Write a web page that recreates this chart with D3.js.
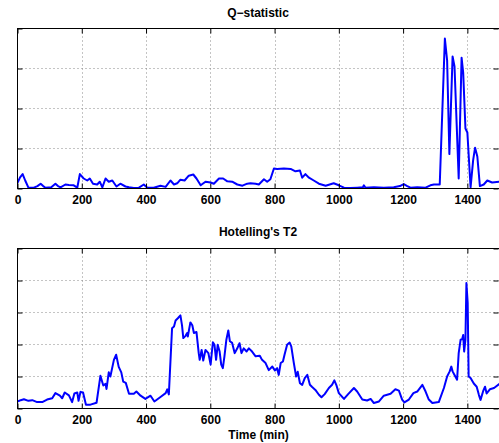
<!DOCTYPE html>
<html><head><meta charset="utf-8">
<script src="https://cdn.jsdelivr.net/npm/d3@7"></script>
<style>
html,body{margin:0;padding:0;background:#fff;}
svg{display:block;}
text{font-family:"Liberation Sans",Arial,Helvetica,sans-serif;font-weight:bold;}
</style></head>
<body>
<svg id="chart" width="499" height="443"></svg>
<script>
// ---- data ----
const xTicks = [0, 200, 400, 600, 800, 1000, 1200, 1400];
const qTicks = [0, 1, 2, 3, 4];
const tTicks = [0, 1, 2, 3, 4, 5];
const titles = ["Q\u2212statistic", "Hotelling's T2"];
const xLabel = "Time (min)";

const qTime = [0,8,16,24,34,51,62,72,80,87,105,118,126,134,149,160,175,186,194,206,217,225,235,248,256,264,274,284,295,308,320,336,347,362,378,393,404,424,445,461,476,487,497,507,520,533,547,557,570,585,601,611,627,640,653,668,684,700,715,725,741,751,767,777,787,798,808,829,850,865,879,886,896,907,922,938,959,984,1000,1016,1036,1057,1075,1078,1083,1109,1140,1171,1190,1202,1213,1223,1244,1270,1285,1296,1314,1330,1337,1344,1354,1360,1373,1382,1387,1394,1400,1410,1418,1424,1431,1439,1451,1462,1477,1500];
const qValue = [0.14,0.28,0.36,0.2,0.02,0.02,0.06,0.12,0.06,0.02,0.03,0.12,0.06,0.03,0.1,0.09,0.08,0.02,0.36,0.25,0.2,0.25,0.12,0.1,0.17,0.03,0.25,0.17,0.2,0.05,0.12,0.05,0.03,0.01,0.02,0.1,0.02,0.02,0.07,0.04,0.2,0.1,0.13,0.22,0.2,0.32,0.35,0.25,0.08,0.17,0.15,0.12,0.25,0.25,0.18,0.17,0.1,0.07,0.12,0.13,0.12,0.1,0.23,0.17,0.23,0.5,0.49,0.5,0.49,0.43,0.45,0.27,0.36,0.27,0.2,0.12,0.07,0.13,0.08,0.02,0.01,0.02,0.03,0.08,0.02,0.03,0.02,0.03,0.06,0.11,0.06,0.02,0.03,0.02,0.08,0.1,0.1,3.75,3.2,0.86,3.3,3.05,0.25,3.27,2.9,1.5,1.4,0.03,0.71,1.02,0.8,0.06,0.1,0.2,0.15,0.17];

const tTime = [0,10,20,34,46,61,77,92,108,118,132,139,147,160,170,177,186,190,196,204,213,227,246,258,267,274,277,284,289,300,307,315,323,329,337,347,362,370,383,398,414,426,445,461,466,471,481,487,492,499,507,512,516,523,528,530,538,544,549,557,564,567,573,578,585,594,601,608,613,618,623,629,634,639,644,650,656,661,668,676,684,691,697,704,713,720,730,741,754,761,772,782,793,801,808,813,819,826,831,839,847,852,860,867,872,879,886,894,902,910,917,927,938,946,956,969,979,986,992,1000,1016,1029,1047,1057,1073,1088,1099,1109,1125,1140,1161,1176,1187,1197,1204,1218,1232,1244,1260,1270,1280,1291,1311,1327,1337,1345,1350,1354,1360,1368,1373,1379,1384,1387,1390,1394,1397,1401,1404,1410,1420,1429,1436,1441,1449,1455,1460,1470,1483,1500];
const tValue = [0.22,0.26,0.29,0.24,0.26,0.2,0.2,0.28,0.32,0.48,0.4,0.32,0.5,0.41,0.2,0.47,0.5,0.24,0.52,0.5,0.12,0.12,0.18,1.02,0.72,0.77,0.61,1.13,1.0,1.52,1.68,1.3,1.13,0.84,0.8,0.46,0.46,0.53,0.4,0.3,0.4,0.22,0.36,0.48,0.6,0.44,2.51,2.56,2.75,2.82,2.91,2.6,2.2,2.27,2.36,2.25,2.69,2.6,2.36,2.39,1.73,1.52,1.83,1.5,1.83,1.73,1.37,2.07,1.99,1.52,1.99,1.78,1.37,1.26,1.63,2.15,2.44,2.1,2.05,1.73,1.88,2.04,1.73,1.88,1.78,1.88,1.78,1.63,1.65,1.52,1.42,1.2,1.31,1.19,1.26,1.05,1.42,1.47,1.68,1.99,2.06,1.94,1.42,1.0,1.15,0.79,0.74,0.95,1.05,0.74,0.67,0.58,0.43,0.35,0.45,0.64,0.74,0.88,0.74,0.48,0.3,0.45,0.64,0.53,0.28,0.25,0.3,0.17,0.22,0.4,0.46,0.6,0.56,0.28,0.19,0.28,0.48,0.53,0.74,0.53,0.28,0.17,0.2,0.64,1.0,1.16,1.31,1.16,1.05,0.9,1.73,2.15,2.17,2.3,1.78,2.15,3.92,3.3,1.0,0.95,0.78,0.68,0.42,0.27,0.54,0.68,0.47,0.6,0.64,0.77];

// ---- layout ----
const svg = d3.select("#chart");
const left = 17.5, right = 499.5;
const panels = [
  {top: 28.5, bottom: 188.5, domain: [0, 4], ticks: qTicks, time: qTime, value: qValue, title: titles[0], titleY: 17},
  {top: 248.5, bottom: 408.5, domain: [0, 5], ticks: tTicks, time: tTime, value: tValue, title: titles[1], titleY: 236}
];

const x = d3.scaleLinear().domain([0, 1500]).range([left, right]);

panels.forEach((p, i) => {
  const y = d3.scaleLinear().domain(p.domain).range([p.bottom, p.top]);
  const g = svg.append("g");

  // grid
  g.append("g").selectAll("line.vx").data(xTicks.slice(1)).join("line")
    .attr("x1", d => Math.round(x(d)) + 0.5).attr("x2", d => Math.round(x(d)) + 0.5)
    .attr("y1", p.top).attr("y2", p.bottom)
    .attr("stroke", "#888").attr("stroke-width", 1).attr("stroke-dasharray", "1,3");
  g.append("g").selectAll("line.hy").data(p.ticks.slice(1, -1)).join("line")
    .attr("x1", left).attr("x2", right)
    .attr("y1", d => y(d)).attr("y2", d => y(d))
    .attr("stroke", "#888").attr("stroke-width", 1).attr("stroke-dasharray", "1,3");

  // data line
  const clipId = "clip" + i;
  svg.append("clipPath").attr("id", clipId).append("rect")
    .attr("x", left).attr("y", p.top - 1).attr("width", right - left).attr("height", p.bottom - p.top + 1);
  const pts = p.time.map((t, k) => [t, p.value[k]]);
  g.append("path").datum(pts)
    .attr("clip-path", `url(#${clipId})`)
    .attr("fill", "none").attr("stroke", "#0000ff").attr("stroke-width", 2)
    .attr("stroke-linejoin", "round")
    .attr("d", d3.line().x(d => x(d[0])).y(d => y(d[1])));

  // axes (inward ticks)
  const ax = g.append("g").attr("transform", `translate(0,${p.bottom})`)
    .call(d3.axisBottom(x).tickValues(xTicks).tickSizeInner(-5).tickSizeOuter(0).tickPadding(7).tickFormat(d3.format("d")));
  ax.select(".domain").remove();
  ax.selectAll("text").attr("font-size", 12).attr("font-family", "Liberation Sans, Arial, sans-serif").attr("font-weight", "bold").attr("fill", "#000");

  const axT = g.append("g").attr("transform", `translate(0,${p.top})`)
    .call(d3.axisTop(x).tickValues(xTicks).tickSizeInner(-5).tickSizeOuter(0).tickFormat(""));
  axT.select(".domain").remove();

  const ayL = g.append("g").attr("transform", `translate(${left},0)`)
    .call(d3.axisLeft(y).tickValues(p.ticks).tickSizeInner(-5).tickSizeOuter(0).tickFormat(""));
  ayL.select(".domain").remove();
  const ayR = g.append("g").attr("transform", `translate(${right - 1},0)`)
    .call(d3.axisRight(y).tickValues(p.ticks).tickSizeInner(-5).tickSizeOuter(0).tickFormat(""));
  ayR.select(".domain").remove();

  // box
  g.append("rect").attr("x", left).attr("y", p.top)
    .attr("width", right - left).attr("height", p.bottom - p.top)
    .attr("fill", "none").attr("stroke", "#000").attr("stroke-width", 1);

  // title
  svg.append("text").attr("x", (left + right) / 2 - 0.5).attr("y", p.titleY)
    .attr("text-anchor", "middle").attr("font-size", 12).attr("fill", "#000").text(p.title);
});

svg.append("text").attr("x", 258.5).attr("y", 439)
  .attr("text-anchor", "middle").attr("font-size", 12).attr("fill", "#000").text(xLabel);
</script>
</body></html>
